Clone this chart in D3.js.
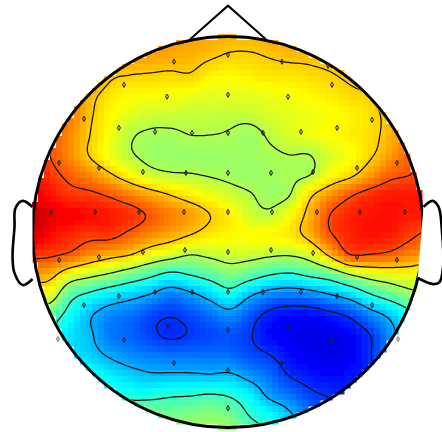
<!DOCTYPE html>
<html lang="en">
<head>
    <meta charset="UTF-8">
    <title>Scalp map</title>
    <style>
        body { margin: 0; background: #fff; }
        svg { display: block; }
    </style>
    <script src="https://d3js.org/d3.v7.min.js"></script>
</head>
<body>
    <svg width="442" height="432"></svg>
    <script>
        // map values, as position on the colour bar (0-100)
        // rows run from the nose down, columns left to right
        const mapValues = [
            [80,80,80,78,76,75,74,73,72,71,70,70,71,72,72,72,73,74,75,76,76],
            [82,82,80,78,74,73,72,71,70,68.5,67,67,68,69,69,70,72,74,76,77,78],
            [85,84,82,76,69,67.5,67,66.5,67,64,63,64,65,65,66,67,69,72,75,77,78],
            [87,84,78,70,65,63,62.5,62,61,60,60,60,61,62,63,64.5,66,67.5,72,76,79],
            [87,82,76,68.5,63,60,58,57.5,57,57,56.5,57,59,60,61,62,63.5,65.5,70,77,80],
            [87,80,74,67.5,62,56,54,54,55,55,54.5,53,56,59,61,62.5,64,65.5,70,75,80],
            [87,80,74,67,61,56,53,52.5,52.5,52.5,53,53,54,55,55,59,62,66.5,72,78,82],
            [87,82.5,78,74,68.5,63,58,56,55.5,54.5,53.5,52.5,53.5,54,55,62,66,72,78,80,82],
            [89,86,82.5,81.5,79,75,71,67.5,64,61,58,55.5,53,55,66,73,79,83,85,85,85],
            [94,90,88,86.5,85,83,79,75,72,67.5,64,58,56.5,62,70,80,84,85.5,86,85,85],
            [93,87,84,82,82,78,74,71,67.5,64.5,63,62.5,63,64.5,70,79,84,86,85,81.5,78],
            [82,81,78.5,73.5,70,67.5,62,58.5,55,56.5,58,57.5,56,55.5,59,69,79.5,79.5,78,74.5,72],
            [72,70,61,57,53.5,49,44.5,40,42.5,46,50,46.5,42.5,41,44,47.5,54.5,59,61,62,60],
            [60,60,46,40.5,36,33,29.5,25,28,33,38.5,31,26,24.5,26,29.5,34,41.5,47,52,55],
            [55,48,39,31,26,24,20,18,20,23.5,27,21,15.5,13.5,13.5,15.5,19,26,32,40,45],
            [50,42,35,31,24.5,22.5,19,16.5,18,19.5,20.5,18,13,11.5,10.5,10.5,12.5,17.5,27,36,42],
            [45,40,36,33,29,26,24.5,23.5,23.5,23.5,23,20,17.5,13.5,11,10.5,11.5,17,26,35,40],
            [45,42,40,40,36,33,31,31,31,30.5,31,27,23,17,14.5,13,14,16.5,26,34,40],
            [50,48,45,44,42,40,40,41.5,42,43,41.5,36.5,28,24,19,17,16,16,25,33,38],
            [55,52,50,50,50,50,50,49,50,51,49,42,38,31,24,20,18,18,25,33,38],
            [58,56,54,54,54,54,54,54,54,55,54,47,41,34,27,22,20,20,25,33,38]
        ];

        const contourLevels = [17.5, 30, 42.5, 55, 67.5, 80];

        // electrode positions in head units, head radius = 1, +y towards the nose
        const electrodeX = [-.276,0,.276,.512,-.532,.532,-.312,0,.307,-.737,.737,-.558,-.373,-.184,0,.179,.373,.558,
            -.864,-.66,-.435,-.215,0,.22,.435,.66,.864,-.905,-.68,-.455,-.225,0,.225,.455,.675,.905,
            -.864,-.66,-.435,-.22,0,.22,.435,.66,.864,-.737,-.558,-.373,-.184,0,.179,.373,.558,.737,
            -.87,-.532,-.307,0,.307,.532,.87,-.276,0,.276,0];
        const electrodeY = [.87,.905,.87,.849,.752,.752,.691,.701,.691,.578,.573,.532,.512,.506,.506,.506,.512,.532,
            .353,.327,.307,.302,.302,.302,.307,.327,.353,.102,.102,.102,.102,.102,.102,.102,.102,.102,
            -.143,-.128,-.102,-.092,-.102,-.092,-.107,-.128,-.143,-.373,-.327,-.307,-.307,-.307,-.307,-.307,-.327,-.373,
            -.547,-.552,-.481,-.501,-.481,-.552,-.547,-.67,-.706,-.67,-.9];

        // head outline in the same units
        const noseX = [-.194, 0, .194];
        const noseY = [.985, 1.156, .985];
        const earX = [-1, -1.05, -1.087, -1.092, -1.102, -1.092, -1.05, -1];
        const earY = [.128, .159, .123, .026, -.128, -.21, -.271, -.24];
        const rightEarX = [1, 1.046, 1.077, 1.094, 1.1, 1.082, 1.05, .97];
        const rightEarY = [.128, .159, .128, .01, -.179, -.256, -.266, -.235];

        const svg = d3.select("svg");

        const x = d3.scaleLinear().domain([-1, 1]).range([32.5, 423.5]);
        const y = d3.scaleLinear().domain([-1, 1]).range([427.8, 36.2]);
        const col = d3.scaleLinear().domain([0, 20]).range([30, 430]);
        const row = d3.scaleLinear().domain([0, 20]).range([35, 435]);

        const jet = d3.scaleLinear()
            .domain([0, 12.5, 37.5, 62.5, 87.5, 100])
            .range(["#00007f", "#0000ff", "#00ffff", "#ffff00", "#ff0000", "#7f0000"])
            .clamp(true);

        function catmull(p0, p1, p2, p3, t) {
            return 0.5 * (2 * p1 + (p2 - p0) * t + (2 * p0 - 5 * p1 + 4 * p2 - p3) * t * t + (3 * p1 - p0 - 3 * p2 + p3) * t * t * t);
        }

        // value under a pixel, smooth between the readings
        function valueAt(px, py) {
            const u = Math.max(0, Math.min(19.999, col.invert(px)));
            const v = Math.max(0, Math.min(19.999, row.invert(py)));
            const i = Math.floor(u), j = Math.floor(v);
            const ci = k => Math.max(0, Math.min(20, k));
            const rows = [-1, 0, 1, 2].map(d => {
                const r = mapValues[ci(j + d)];
                return catmull(r[ci(i - 1)], r[i], r[ci(i + 1)], r[ci(i + 2)], u - i);
            });
            return catmull(rows[0], rows[1], rows[2], rows[3], v - j);
        }

        const defs = svg.append("defs");
        defs.append("filter").attr("id", "soft")
            .attr("x", "-5%").attr("y", "-5%").attr("width", "110%").attr("height", "110%")
            .append("feGaussianBlur").attr("stdDeviation", 0.7);
        defs.append("clipPath").attr("id", "inside")
            .append("circle")
            .attr("cx", x(0)).attr("cy", y(0)).attr("r", x(1) - x(0) - 2);

        // colour cells, same coarse blocks as the picture
        const cellSize = 6;
        const cells = [];
        d3.range(32, 426, cellSize).forEach(cx => {
            d3.range(34, 430, cellSize).forEach(cy => {
                if (Math.hypot(cx + 3 - x(0), cy + 3 - y(0)) <= x(1) - x(0) - 0.2) {
                    cells.push({ cx, cy, value: valueAt(cx + 3, cy + 3) });
                }
            });
        });

        svg.append("g")
            .attr("filter", "url(#soft)")
            .selectAll("rect")
            .data(cells)
            .enter().append("rect")
            .attr("x", d => d.cx)
            .attr("y", d => d.cy)
            .attr("width", cellSize + 0.5)
            .attr("height", cellSize + 0.5)
            .attr("fill", d => jet(d.value));

        // contour lines
        const step = 2;
        const n = 200, m = 200;
        const fine = new Array(n * m);
        for (let j = 0; j < m; j++) {
            for (let i = 0; i < n; i++) {
                fine[j * n + i] = valueAt(col(0) + i * step, row(0) + j * step);
            }
        }
        const contours = d3.contours().size([n, m]).thresholds(contourLevels)(fine);
        const contourPath = d3.geoPath(d3.geoIdentity().scale(step).translate([col(0) - 1, row(0) - 1]));

        svg.append("g")
            .attr("clip-path", "url(#inside)")
            .selectAll("path")
            .data(contours)
            .enter().append("path")
            .attr("d", contourPath)
            .attr("fill", "none")
            .attr("stroke", "#111")
            .attr("stroke-width", 1.25);

        // head
        const outline = d3.line().x(d => x(d[0])).y(d => y(d[1]));
        const earLine = d3.line().x(d => x(d[0])).y(d => y(d[1])).curve(d3.curveCatmullRom);

        svg.append("circle")
            .attr("cx", x(0)).attr("cy", y(0)).attr("r", x(1) - x(0))
            .attr("fill", "none").attr("stroke", "#000").attr("stroke-width", 3);
        svg.append("path")
            .attr("d", outline(d3.zip(noseX, noseY)))
            .attr("fill", "none").attr("stroke", "#000").attr("stroke-width", 2);
        [d3.zip(earX, earY), d3.zip(rightEarX, rightEarY)].forEach(ear => {
            svg.append("path")
                .attr("d", earLine(ear))
                .attr("fill", "#fff").attr("stroke", "#000").attr("stroke-width", 2.6);
        });

        // electrodes
        const diamond = d3.symbol().type(d3.symbolDiamond).size(8);
        svg.append("g")
            .selectAll("path")
            .data(d3.zip(electrodeX, electrodeY))
            .enter().append("path")
            .attr("d", diamond)
            .attr("transform", d => `translate(${x(d[0])},${y(d[1])})`)
            .attr("fill", "#000")
            .attr("fill-opacity", 0.2)
            .attr("stroke", d => Math.hypot(d[0], d[1]) > 1 ? "#888" : "#222")
            .attr("stroke-width", 1);
    </script>
</body>
</html>
